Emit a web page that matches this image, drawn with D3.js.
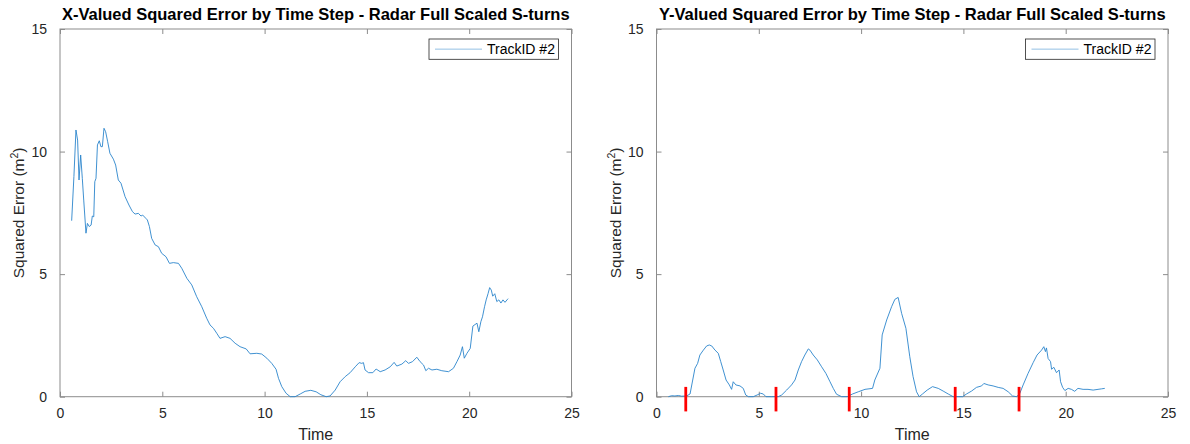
<!DOCTYPE html>
<html><head><meta charset="utf-8">
<script src="https://cdn.jsdelivr.net/npm/d3@7"></script>
<style>body{margin:0;background:#fff;} svg{display:block;font-family:"Liberation Sans",Arial,sans-serif;}</style>
</head><body>
<svg id="c" width="1190" height="444"></svg>
<script>
const xTicks = [0, 5, 10, 15, 20, 25];
const yTicks = [0, 5, 10, 15];
const titles = ["X-Valued Squared Error by Time Step - Radar Full Scaled S-turns",
                "Y-Valued Squared Error by Time Step - Radar Full Scaled S-turns"];
const legendLabel = "TrackID #2";
const xLabel = "Time";

const xTime = [0.57,0.68,0.78,0.86,0.93,1.01,1.09,1.16,1.27,1.34,1.43,1.52,1.58,1.65,1.70,1.76,1.83,1.92,2.00,2.07,2.15,2.23,2.33,2.44,2.61,2.72,2.85,2.98,3.18,3.37,3.54,3.67,3.83,3.96,4.04,4.19,4.27,4.37,4.48,4.65,4.81,4.97,5.18,5.35,5.54,5.79,5.95,6.20,6.44,6.68,6.93,7.17,7.33,7.50,7.66,7.82,8.07,8.31,8.56,8.80,9.10,9.29,9.62,9.86,10.11,10.35,10.56,10.68,10.84,11.05,11.25,11.49,11.74,11.98,12.26,12.52,12.75,13.01,13.20,13.45,13.69,13.94,14.18,14.43,14.62,14.75,14.83,14.91,15.08,15.29,15.45,15.65,15.89,16.14,16.33,16.46,16.71,16.90,17.03,17.23,17.44,17.60,17.77,17.88,18.01,18.18,18.42,18.66,18.99,19.23,19.40,19.56,19.67,19.76,19.89,20.05,20.18,20.38,20.47,20.57,20.65,20.75,20.83,20.92,21.00,21.08,21.15,21.25,21.35,21.45,21.55,21.65,21.75,21.85,21.90];
const xError = [7.18,8.98,10.88,10.47,8.84,9.86,8.91,8.02,6.67,7.07,6.94,7.00,7.37,7.34,8.77,8.91,10.27,10.44,10.20,10.20,10.95,10.81,10.40,9.93,9.69,9.45,8.84,8.71,8.16,7.82,7.55,7.45,7.48,7.37,7.41,7.28,7.21,6.94,6.46,6.19,6.12,5.85,5.71,5.44,5.47,5.44,5.24,4.83,4.56,4.08,3.67,3.20,2.93,2.79,2.59,2.38,2.45,2.38,2.18,2.04,1.95,1.75,1.77,1.74,1.57,1.36,1.12,0.75,0.41,0.14,0.0,0.0,0.11,0.22,0.26,0.20,0.08,0.0,0.03,0.27,0.61,0.82,0.98,1.22,1.39,1.36,1.39,1.09,0.98,0.98,1.13,1.02,1.09,1.22,1.40,1.25,1.33,1.47,1.36,1.43,1.61,1.43,1.29,1.06,1.16,1.09,1.12,1.06,1.02,1.16,1.43,1.70,2.04,1.57,1.77,1.97,2.88,3.00,2.65,3.06,3.26,3.67,3.95,4.20,4.45,4.35,4.10,4.20,3.88,3.95,3.82,3.95,3.85,3.95,4.00];

const yTime = [0.58,0.74,0.90,1.07,1.23,1.47,1.64,1.77,1.88,2.01,2.12,2.29,2.45,2.58,2.70,2.86,3.02,3.14,3.26,3.40,3.56,3.67,3.75,3.88,4.08,4.24,4.36,4.49,4.73,4.92,5.09,5.22,5.35,5.63,5.95,6.12,6.36,6.60,6.77,6.93,7.09,7.25,7.42,7.50,7.66,7.86,8.07,8.28,8.48,8.64,8.80,9.05,9.32,9.58,9.86,10.19,10.56,10.67,10.92,11.03,11.25,11.49,11.65,11.81,11.98,12.19,12.38,12.54,12.71,12.84,13.00,13.23,13.49,13.77,14.01,14.26,14.50,14.74,14.96,15.15,15.40,15.64,15.89,16.00,16.21,16.45,16.70,16.94,17.19,17.40,17.60,17.76,17.92,18.16,18.41,18.60,18.82,18.93,19.01,19.06,19.14,19.26,19.31,19.42,19.55,19.68,19.75,19.85,19.96,20.12,20.28,20.44,20.60,20.85,21.09,21.34,21.58,21.75,21.91];
const yError = [0.0,0.04,0.03,0.05,0.02,0.03,0.11,0.68,1.16,1.36,1.70,1.90,2.07,2.11,2.07,1.90,1.77,1.43,1.09,0.68,0.48,0.30,0.61,0.48,0.44,0.34,0.07,0.0,0.0,0.07,0.14,0.11,0.0,0.0,0.0,0.07,0.27,0.48,0.68,1.09,1.43,1.70,1.95,1.90,1.70,1.50,1.22,0.95,0.61,0.34,0.10,0.0,0.0,0.11,0.20,0.30,0.34,0.68,1.16,2.52,3.13,3.67,3.97,4.05,3.40,2.79,1.63,0.82,0.20,0.0,0.11,0.27,0.41,0.34,0.23,0.11,0.0,0.0,0.0,0.11,0.23,0.38,0.44,0.54,0.48,0.44,0.38,0.34,0.20,0.03,0.0,0.14,0.48,0.95,1.39,1.70,1.90,2.04,1.84,1.99,1.56,1.43,1.12,1.20,0.98,1.09,0.61,0.38,0.25,0.34,0.30,0.22,0.34,0.30,0.30,0.27,0.30,0.32,0.34];

const turnMarks = [1.43, 5.84, 9.42, 14.60, 17.72];
const markRange = [-0.6, 0.4];

const svg = d3.select("#c");
const plotTop = 29, plotBottom = 396.7;
const panels = [
  {x0: 60, x1: 571.5, t: xTime, v: xError, title: titles[0], marks: []},
  {x0: 656.5, x1: 1168, t: yTime, v: yError, title: titles[1], marks: turnMarks}
];
const axisCol = "#8c8c8c", textCol = "#262626", lineCol = "#2a84cc";

panels.forEach(p => {
  const x = d3.scaleLinear().domain([0, 25]).range([p.x0, p.x1]);
  const y = d3.scaleLinear().domain([0, 15]).range([plotBottom, plotTop]);
  const g = svg.append("g");
  const tl = 5;
  g.append("rect").attr("x", p.x0).attr("y", plotTop).attr("width", p.x1 - p.x0).attr("height", plotBottom - plotTop)
    .attr("fill", "none").attr("stroke", axisCol).attr("stroke-width", 1);
  const xb = g.append("g").attr("transform", `translate(0,${plotBottom})`)
    .call(d3.axisBottom(x).tickValues(xTicks).tickSizeInner(-tl).tickSizeOuter(0).tickPadding(11));
  const xt = g.append("g").attr("transform", `translate(0,${plotTop})`)
    .call(d3.axisTop(x).tickValues(xTicks).tickSizeInner(-tl).tickSizeOuter(0).tickFormat(""));
  const yl = g.append("g").attr("transform", `translate(${p.x0},0)`)
    .call(d3.axisLeft(y).tickValues(yTicks).tickSizeInner(-tl).tickSizeOuter(0).tickPadding(13));
  const yr = g.append("g").attr("transform", `translate(${p.x1},0)`)
    .call(d3.axisRight(y).tickValues(yTicks).tickSizeInner(-tl).tickSizeOuter(0).tickFormat(""));
  [xb, xt, yl, yr].forEach(a => {
    a.select(".domain").remove();
    a.selectAll(".tick line").attr("stroke", axisCol);
    a.selectAll("text").attr("fill", textCol).style("font-size", "14px").style("font-family", "Liberation Sans, Arial, sans-serif");
  });
  const data = p.t.map((t, i) => [t, p.v[i]]);
  g.append("path").datum(data).attr("fill", "none").attr("stroke", lineCol).attr("stroke-width", 0.9)
    .attr("stroke-linejoin", "round")
    .attr("d", d3.line().x(d => x(d[0])).y(d => y(d[1])));
  g.selectAll(".mk").data(p.marks).enter().append("line")
    .attr("x1", d => x(d)).attr("x2", d => x(d))
    .attr("y1", y(markRange[0])).attr("y2", y(markRange[1]))
    .attr("stroke", "#ff0000").attr("stroke-width", 2.8);
  g.append("text").attr("x", (p.x0 + p.x1) / 2).attr("y", 20).attr("text-anchor", "middle")
    .style("font-size", "16.5px").style("font-weight", "bold").attr("fill", "#000").text(p.title);
  g.append("text").attr("x", (p.x0 + p.x1) / 2).attr("y", 440).attr("text-anchor", "middle")
    .style("font-size", "16px").attr("fill", textCol).text(xLabel);
  const yt = g.append("text").attr("transform", `translate(${p.x0 - 36},${(plotTop + plotBottom) / 2}) rotate(-90)`)
    .attr("text-anchor", "middle").style("font-size", "15.5px").attr("fill", textCol);
  yt.append("tspan").text("Squared Error (m");
  yt.append("tspan").attr("baseline-shift", "super").style("font-size", "10.5px").text("2");
  yt.append("tspan").text(")");
  const lx1 = p.x1 - 13, lx0 = lx1 - 129.5, ly0 = 39, ly1 = 59.3;
  g.append("rect").attr("x", lx0).attr("y", ly0).attr("width", lx1 - lx0).attr("height", ly1 - ly0)
    .attr("fill", "#fff").attr("stroke", "#262626").attr("stroke-width", 0.8);
  g.append("line").attr("x1", lx0 + 6).attr("x2", lx0 + 53).attr("y1", (ly0 + ly1) / 2).attr("y2", (ly0 + ly1) / 2)
    .attr("stroke", lineCol).attr("stroke-width", 1).attr("stroke-opacity", 0.5);
  g.append("text").attr("x", lx0 + 58).attr("y", (ly0 + ly1) / 2 + 5)
    .style("font-size", "14px").attr("fill", "#000").text(legendLabel);
});
</script>
</body></html>
